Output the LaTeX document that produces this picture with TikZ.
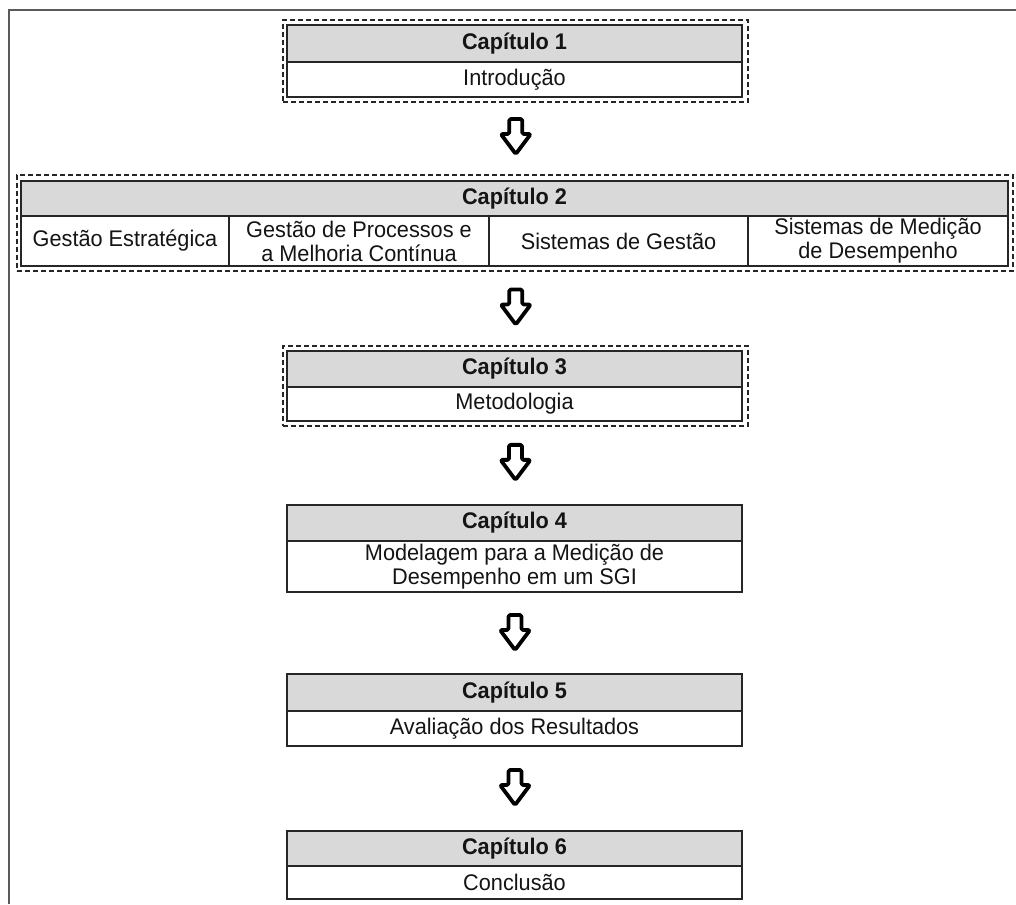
\documentclass[tikz,border=0pt]{standalone}
\usepackage{fontspec}
\setmainfont[FakeStretch=0.96]{Liberation Sans}
\usetikzlibrary{calc}
\definecolor{hdrgray}{HTML}{D9D9D9}
\definecolor{boxline}{HTML}{262626}
\definecolor{framegray}{HTML}{5A5A5A}
\definecolor{txt}{HTML}{141414}
\tikzset{
  cell/.style={draw=boxline, line width=2, inner sep=0pt, align=center, text=txt,
    font=\fontsize{22.6}{24}\selectfont},
  hdr/.style={cell, fill=hdrgray, font=\fontsize{22.6}{24}\selectfont\bfseries},
  body/.style={cell, fill=white},
  dashbox/.style={draw=boxline, line width=1.5, dash pattern=on 5pt off 3pt, inner sep=0pt},
  blockdown/.pic={\draw[line width=3.8, line join=round, rounded corners=1.5, fill=white]
    (-6.5,-17.5) -- (6.5,-17.5) -- (6.5,-2.5) -- (15,-2.5) -- (0,17.5) -- (-15,-2.5) -- (-6.5,-2.5) -- cycle;}
}
\begin{document}
\begin{tikzpicture}[x=1pt,y=-1pt]
\useasboundingbox (0,0) rectangle (1016,904);
\fill[white] (0,0) rectangle (1016,904);
% frame
\draw[framegray, line width=2] (9,904) -- (9,10) -- (1016,10);

% Chapter 1
\node[dashbox, minimum width=465, minimum height=82] (c1o) at (515.5,61) {};
\node[hdr, minimum width=455, minimum height=37] (c1h) at (514.5,43.5) {Capítulo 1};
\node[body, minimum width=455, minimum height=35] (c1b) at (514.5,79.5) {Introdução};

% Chapter 2
\node[dashbox, minimum width=996, minimum height=96] (c2o) at (515,223) {};
\node[hdr, minimum width=987, minimum height=35] (c2h) at (514.5,198.5) {Capítulo 2};
\node[body, minimum width=208, minimum height=50] (c2a) at (125,241) {Gestão Estratégica};
\node[body, minimum width=260, minimum height=50] (c2b) at (359,241) {Gestão de Processos e\\a Melhoria Contínua};
\node[body, minimum width=259, minimum height=50] (c2c) at (618.5,241) {Sistemas de Gestão};
\node[body, minimum width=260, minimum height=50] (c2d) at (878,241) {Sistemas de Medição\\de Desempenho};

% Chapter 3
\node[dashbox, minimum width=465, minimum height=80] (c3o) at (515.5,386) {};
\node[hdr, minimum width=455, minimum height=36] (c3h) at (514.5,369) {Capítulo 3};
\node[body, minimum width=455, minimum height=34] (c3b) at (514.5,404) {Metodologia};

% Chapter 4
\node[hdr, minimum width=455, minimum height=36] (c4h) at (514.5,523) {Capítulo 4};
\node[body, minimum width=455, minimum height=51] (c4b) at (514.5,566.5) {Modelagem para a Medição de\\Desempenho em um SGI};

% Chapter 5
\node[hdr, minimum width=455, minimum height=37] (c5h) at (514.5,692.5) {Capítulo 5};
\node[body, minimum width=455, minimum height=35] (c5b) at (514.5,728.5) {Avaliação dos Resultados};

% Chapter 6
\node[hdr, minimum width=455, minimum height=35] (c6h) at (514.5,848.5) {Capítulo 6};
\node[body, minimum width=455, minimum height=33] (c6b) at (514.5,882.5) {Conclusão};

% arrows
\pic at ($(c1o.south)!0.5!(c2o.north)+(0.5,-2)$) {blockdown};
\pic at ($(c2o.south)!0.5!(c3o.north)+(0.5,-1.5)$) {blockdown};
\pic at ($(c3o.south)!0.5!(c4h.north)+(0.5,-3)$) {blockdown};
\pic at ($(c4b.south)!0.5!(c5h.north)+(0.5,-0.5)$) {blockdown};
\pic at ($(c5b.south)!0.5!(c6h.north)+(0.5,-1)$) {blockdown};
\end{tikzpicture}
\end{document}
